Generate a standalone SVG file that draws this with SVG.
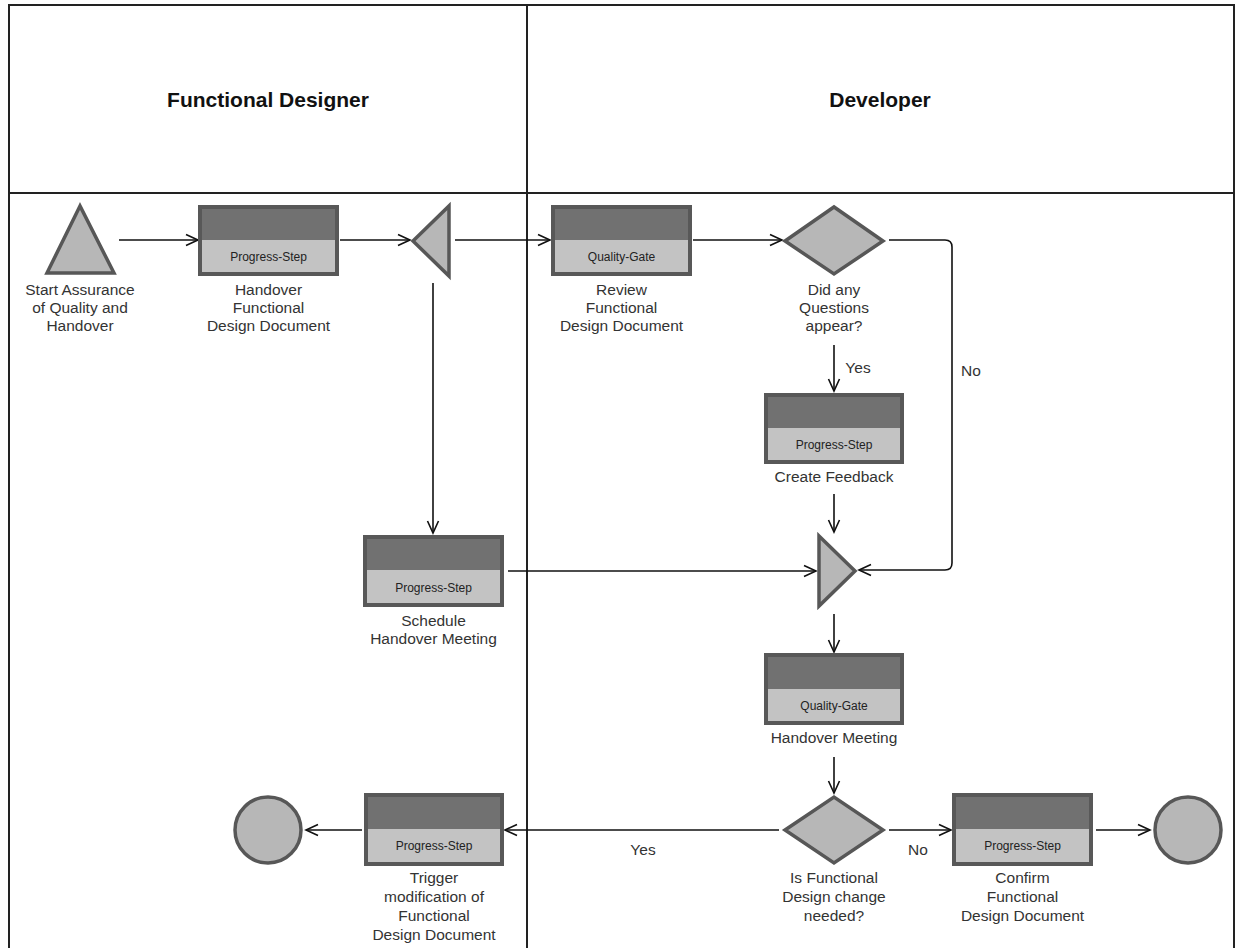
<svg xmlns="http://www.w3.org/2000/svg" width="1235" height="948" viewBox="0 0 1235 948">
  <defs>
    <marker id="arrow" markerUnits="userSpaceOnUse" markerWidth="16" markerHeight="14" refX="13" refY="7" orient="auto">
      <path d="M1,1.5 L13,7 L1,12.5" fill="none" stroke="#111" stroke-width="1.6"/>
    </marker>
  </defs>
  <style>
    .lane { stroke: #222; stroke-width: 2; fill: none; }
    .title { font-family: "Liberation Sans", Arial, sans-serif; font-size: 21px; font-weight: bold; fill: #111; text-anchor: middle; }
    .lbl { font-family: "Liberation Sans", Arial, sans-serif; font-size: 15.5px; fill: #333; text-anchor: middle; }
    .tag { font-family: "Liberation Sans", Arial, sans-serif; font-size: 12px; fill: #222; text-anchor: middle; }
    .frame { fill: none; stroke: #585858; stroke-width: 4; }
    .top { fill: #717171; }
    .bot { fill: #c3c3c3; }
    .shape { fill: #b7b7b7; stroke: #575757; stroke-width: 3.5; stroke-linejoin: miter; }
    .edge { fill: none; stroke: #111; stroke-width: 1.6; marker-end: url(#arrow); }
  </style>
  <rect width="1235" height="948" fill="#fff"/>

  <!-- swimlanes -->
  <g id="lanes">
    <path class="lane" d="M9,948 V5 H1234 V948"/>
    <line class="lane" x1="9" y1="193" x2="1234" y2="193"/>
    <line class="lane" x1="527" y1="5" x2="527" y2="948"/>
    <text class="title" x="268" y="107">Functional Designer</text>
    <text class="title" x="880" y="107">Developer</text>
  </g>

  <!-- connectors -->
  <g id="connectors">
    <line class="edge" x1="119" y1="240" x2="198" y2="240"/>
    <line class="edge" x1="340" y1="240" x2="410" y2="240"/>
    <line class="edge" x1="455" y1="240" x2="550" y2="240"/>
    <line class="edge" x1="693" y1="240" x2="782" y2="240"/>
    <path class="edge" d="M889,240 H945 Q952,240 952,247 V563 Q952,570 945,570 H859"/>
    <line class="edge" x1="834" y1="345" x2="834" y2="391"/>
    <line class="edge" x1="834" y1="494" x2="834" y2="532"/>
    <line class="edge" x1="433" y1="283" x2="433" y2="533"/>
    <line class="edge" x1="508" y1="571" x2="816" y2="571"/>
    <line class="edge" x1="834" y1="614" x2="834" y2="652"/>
    <line class="edge" x1="834" y1="757" x2="834" y2="793"/>
    <line class="edge" x1="889" y1="830" x2="951" y2="830"/>
    <line class="edge" x1="1096" y1="830" x2="1150" y2="830"/>
    <line class="edge" x1="779" y1="830" x2="505" y2="830"/>
    <line class="edge" x1="362" y1="830" x2="306" y2="830"/>
    <text class="lbl" x="858" y="373">Yes</text>
    <text class="lbl" x="971" y="376">No</text>
    <text class="lbl" x="643" y="855">Yes</text>
    <text class="lbl" x="918" y="855">No</text>
  </g>

  <!-- start event -->
  <g id="start">
    <polygon class="shape" points="80,206 47,273 114,273"/>
    <text class="lbl" x="80" y="295">Start Assurance</text>
    <text class="lbl" x="80" y="313">of Quality and</text>
    <text class="lbl" x="80" y="331">Handover</text>
  </g>

  <g id="handover-fdd">
    <rect class="top" x="200" y="207" width="137" height="33"/>
    <rect class="bot" x="200" y="240" width="137" height="34"/>
    <rect class="frame" x="200" y="207" width="137" height="67"/>
    <text class="tag" x="268.5" y="261">Progress-Step</text>
    <text class="lbl" x="268.5" y="295">Handover</text>
    <text class="lbl" x="268.5" y="313">Functional</text>
    <text class="lbl" x="268.5" y="331">Design Document</text>
  </g>

  <g id="split">
    <polygon class="shape" points="413,241 449,206 449,276"/>
  </g>

  <g id="review-fdd">
    <rect class="top" x="553" y="207" width="137" height="33"/>
    <rect class="bot" x="553" y="240" width="137" height="34"/>
    <rect class="frame" x="553" y="207" width="137" height="67"/>
    <text class="tag" x="621.5" y="261">Quality-Gate</text>
    <text class="lbl" x="621.5" y="295">Review</text>
    <text class="lbl" x="621.5" y="313">Functional</text>
    <text class="lbl" x="621.5" y="331">Design Document</text>
  </g>

  <g id="questions">
    <polygon class="shape" points="785,241 834,207 883,241 834,274"/>
    <text class="lbl" x="834" y="295">Did any</text>
    <text class="lbl" x="834" y="313">Questions</text>
    <text class="lbl" x="834" y="331">appear?</text>
  </g>

  <g id="create-feedback">
    <rect class="top" x="766" y="395" width="136" height="33"/>
    <rect class="bot" x="766" y="428" width="136" height="34"/>
    <rect class="frame" x="766" y="395" width="136" height="67"/>
    <text class="tag" x="834" y="449">Progress-Step</text>
    <text class="lbl" x="834" y="482">Create Feedback</text>
  </g>

  <g id="schedule-meeting">
    <rect class="top" x="365" y="537" width="137" height="33"/>
    <rect class="bot" x="365" y="570" width="137" height="35"/>
    <rect class="frame" x="365" y="537" width="137" height="68"/>
    <text class="tag" x="433.5" y="592">Progress-Step</text>
    <text class="lbl" x="433.5" y="626">Schedule</text>
    <text class="lbl" x="433.5" y="644">Handover Meeting</text>
  </g>

  <g id="join">
    <polygon class="shape" points="819,536 855,571 819,606"/>
  </g>

  <g id="handover-meeting">
    <rect class="top" x="766" y="655" width="136" height="34"/>
    <rect class="bot" x="766" y="689" width="136" height="34"/>
    <rect class="frame" x="766" y="655" width="136" height="68"/>
    <text class="tag" x="834" y="710">Quality-Gate</text>
    <text class="lbl" x="834" y="743">Handover Meeting</text>
  </g>

  <g id="change-needed">
    <polygon class="shape" points="785,830 834,797 883,830 834,863"/>
    <text class="lbl" x="834" y="883">Is Functional</text>
    <text class="lbl" x="834" y="902">Design change</text>
    <text class="lbl" x="834" y="921">needed?</text>
  </g>

  <g id="trigger-modification">
    <rect class="top" x="366" y="795" width="136" height="34"/>
    <rect class="bot" x="366" y="829" width="136" height="35"/>
    <rect class="frame" x="366" y="795" width="136" height="69"/>
    <text class="tag" x="434" y="850">Progress-Step</text>
    <text class="lbl" x="434" y="883">Trigger</text>
    <text class="lbl" x="434" y="902">modification of</text>
    <text class="lbl" x="434" y="921">Functional</text>
    <text class="lbl" x="434" y="940">Design Document</text>
  </g>

  <g id="confirm-fdd">
    <rect class="top" x="954" y="795" width="137" height="34"/>
    <rect class="bot" x="954" y="829" width="137" height="35"/>
    <rect class="frame" x="954" y="795" width="137" height="69"/>
    <text class="tag" x="1022.5" y="850">Progress-Step</text>
    <text class="lbl" x="1022.5" y="883">Confirm</text>
    <text class="lbl" x="1022.5" y="902">Functional</text>
    <text class="lbl" x="1022.5" y="921">Design Document</text>
  </g>

  <g id="end-left">
    <circle class="shape" cx="268" cy="830" r="33"/>
  </g>

  <g id="end-right">
    <circle class="shape" cx="1188" cy="830" r="33"/>
  </g>
</svg>
